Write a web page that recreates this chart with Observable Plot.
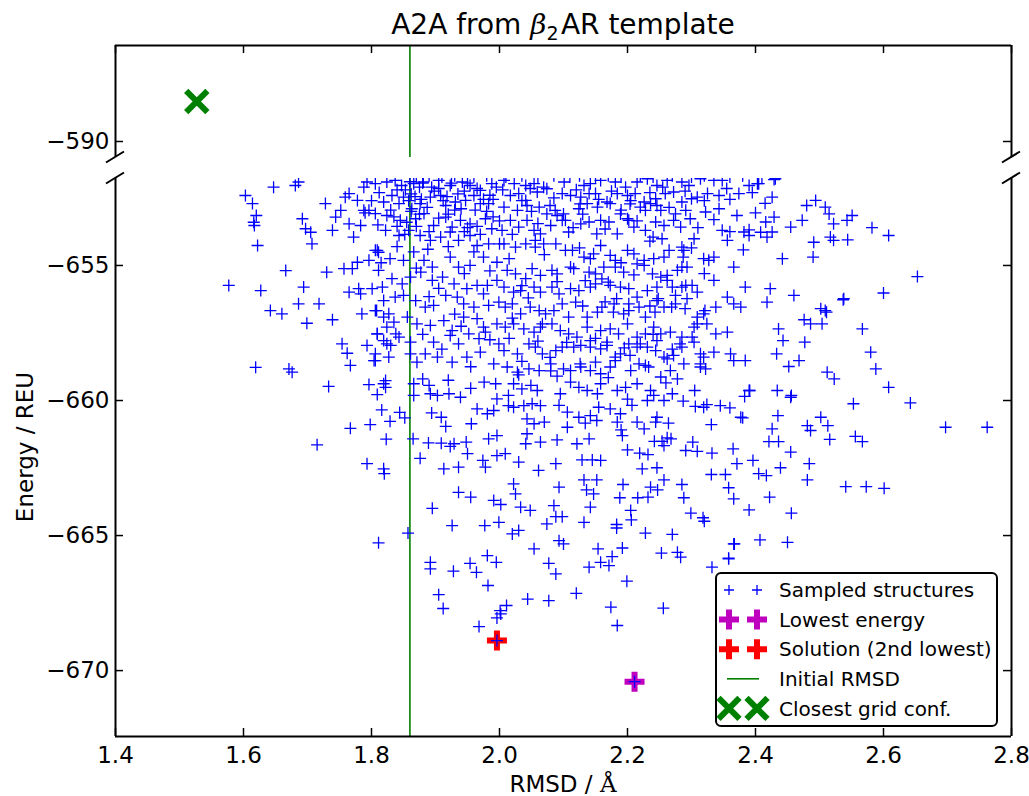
<!DOCTYPE html>
<html><head><meta charset="utf-8">
<script src="https://cdn.jsdelivr.net/npm/d3@7"></script>
<script src="https://cdn.jsdelivr.net/npm/@observablehq/plot@0.6"></script>
<style>
html,body{margin:0;padding:0;background:#fff;overflow:hidden}
#fig{position:relative;width:1029px;height:796px;font-family:"DejaVu Sans",sans-serif;color:#000;background:#fff}
#fig svg{position:absolute;left:0}
.lbl{position:absolute;white-space:nowrap;line-height:1}
</style></head><body><div id="fig"></div>
<script>
// ---------- data ----------
const titleText = ["A2A from ", "β", "2", "AR template"];
const xLabel = "RMSD / ";
const xLabelUnit = "Å";
const yLabel = "Energy / REU";
const xTicks = [1.4, 1.6, 1.8, 2.0, 2.2, 2.4, 2.6, 2.8];
const yTicksTop = [-590];
const yTicksBottom = [-655, -660, -665, -670];
const xDomain = [1.4, 2.8];
const topDomain = [-590.5, -587];
const bottomDomain = [-672.44, -651.78];
const initialRmsd = 1.86;
const lowestEnergy = [[2.211, -670.41]];
const solution = [[1.996, -668.89]];
const closestGrid = [[1.527, -588.75]];
const legendLabels = ["Sampled structures", "Lowest energy", "Solution (2nd lowest)", "Initial RMSD", "Closest grid conf."];

const sampledLeft = [[1.603,-652.41],[1.614,-652.71],[1.647,-652.10],[1.681,-652.04],[1.686,-651.91],[1.620,-653.15],[1.616,-653.40],[1.617,-653.52],[1.622,-654.26],[1.692,-653.27],[1.697,-653.64],[1.705,-653.77],[1.707,-654.20],[1.728,-652.71],[1.739,-653.70],[1.744,-653.21],[1.752,-652.96],[1.759,-652.47],[1.765,-652.34],[1.778,-652.59],[1.788,-652.10],[1.793,-651.91],[1.788,-652.96],[1.796,-652.96],[1.783,-653.52],[1.772,-653.95],[1.765,-653.46],
[1.577,-655.74],[1.627,-655.93],[1.666,-655.19],[1.694,-655.80],[1.642,-656.67],[1.660,-656.79],[1.686,-656.42],[1.718,-656.42],[1.699,-657.14],[1.739,-657.01],[1.730,-655.25],[1.757,-655.12],[1.770,-655.12],[1.778,-654.88],[1.765,-655.99],[1.780,-655.86],[1.783,-656.05],[1.801,-655.86],[1.817,-655.80],[1.785,-656.79],[1.808,-656.67],[1.827,-656.79],[1.806,-654.44],[1.811,-654.51],[1.796,-654.81],[1.619,-658.77],[1.671,-658.83],[1.676,-658.95],[1.733,-659.48],[1.754,-657.90],[1.762,-658.25],[1.767,-658.70],[1.793,-657.96],[1.804,-658.52],[1.806,-658.27],[1.822,-659.26],[1.809,-657.53],[1.819,-657.78],[1.830,-657.96],[1.838,-657.53],[1.824,-657.28]];

const sampledLower = [[1.796,-659.41],[1.819,-659.38],[1.822,-659.51],[1.809,-659.78],[1.816,-660.35],[1.829,-660.77],[1.798,-660.89],[1.767,-661.03],[1.715,-661.64],[1.823,-661.43],[1.793,-662.34],[1.819,-662.53],[1.820,-662.71],[1.844,-660.44],[1.852,-660.64],[1.811,-665.27],[1.857,-664.91],
[1.865,-661.42],[1.876,-662.14],[1.889,-661.57],[1.894,-660.46],[1.909,-661.58],[1.909,-660.62],[1.916,-660.96],[1.923,-661.70],[1.929,-661.60],[1.936,-662.47],[1.913,-662.53],[1.939,-659.88],[1.956,-660.86],[1.948,-661.54],[1.950,-661.97],[1.974,-662.22],[1.978,-662.47],[1.981,-660.49],[1.983,-661.42],[1.996,-661.30],[1.996,-662.04],[2.009,-661.97],[2.030,-662.28],[2.043,-661.23],[2.041,-661.60],[2.064,-661.54],[2.061,-662.59],
[1.895,-663.99],[1.936,-663.40],[1.955,-663.58],[1.926,-664.63],[1.977,-664.63],[1.999,-664.51],[1.991,-663.70],[2.002,-663.85],[2.022,-663.09],[2.025,-663.46],[2.033,-663.95],[2.048,-664.07],[2.020,-664.94],[2.030,-664.81],[2.074,-664.57],[1.892,-665.99],[1.892,-666.23],[1.928,-666.32],[1.954,-666.03],[1.964,-666.36],[1.981,-665.74],[1.995,-665.99],[1.982,-666.85],[2.054,-665.49],[1.905,-667.19],[1.912,-667.70],[1.968,-668.37],[1.996,-668.05],[2.002,-667.90],[2.001,-667.78],[2.011,-667.59],[2.044,-667.35],[1.996,-668.89],[2.211,-670.41],
[1.866,-659.38],[1.866,-659.81],[1.890,-659.44],[1.892,-659.75],[1.903,-659.81],[1.921,-659.75],[1.976,-659.32],[1.994,-659.38],[1.996,-659.94],[2.014,-659.81],[2.022,-659.38],[2.035,-659.57],[2.049,-659.44],[2.059,-659.63],[2.014,-660.19],[2.022,-660.25],[2.038,-660.19],[2.051,-660.12],[2.064,-660.19],[1.965,-660.31],[1.991,-660.37],[2.043,-660.68],[2.054,-660.86],[2.070,-660.80],
[2.100,-665.31],[2.154,-665.49],[2.192,-665.46],[2.176,-665.78],[2.158,-665.99],[2.171,-666.11],[2.140,-666.17],[2.077,-666.03],[2.088,-666.42],[2.253,-665.65],[2.278,-665.62],[2.283,-665.80],[2.332,-666.17],[2.358,-665.86],[2.366,-665.31],[2.199,-666.69],[2.120,-667.14],[2.077,-667.41],[2.174,-667.65],[2.184,-668.33],[2.256,-667.69]];

const sampledRight = [[2.608,-659.51],[2.642,-660.09],[2.553,-660.12],[2.697,-660.99],[2.762,-660.99],[2.502,-660.62],[2.513,-660.93],[2.481,-660.93],[2.486,-661.11],[2.516,-661.44],[2.556,-661.33],[2.567,-661.52],[2.435,-660.56],[2.426,-661.05],[2.421,-661.52],[2.436,-661.52],[2.455,-661.91],[2.484,-662.34],[2.481,-662.94],[2.541,-663.19],[2.573,-663.19],[2.601,-663.25],[2.439,-662.49],[2.396,-662.22],[2.371,-662.34],[2.405,-662.71],[2.417,-662.78],
[2.434,-659.63],[2.456,-659.81],[2.391,-659.63],[2.383,-659.85],[2.305,-659.63],[2.287,-660.02],[2.306,-660.22],[2.324,-660.15],[2.345,-660.19],[2.360,-660.27],[2.331,-660.89],[2.380,-660.64],[2.365,-661.79],[2.332,-661.95],[2.291,-661.85],[2.309,-661.88],[2.302,-661.54],
[2.331,-662.74],[2.353,-662.74],[2.358,-663.23],[2.366,-663.64],[2.390,-664.05],[2.422,-663.58],[2.456,-664.17],[2.407,-665.16],[2.450,-665.25],[2.367,-665.31],[2.358,-665.84],
[2.288,-663.60],[2.285,-663.11],[2.299,-664.17],[2.318,-664.34],[2.320,-664.47],[2.270,-664.96],[2.228,-664.91],
[2.193,-663.11],[2.188,-663.60],[2.205,-664.07],[2.206,-664.42],[2.183,-664.59],[2.183,-664.72],[2.132,-664.51],[2.093,-665.19],[2.088,-664.30],[2.098,-664.30],
[2.236,-663.21],[2.232,-663.58],[2.216,-663.60],[2.247,-663.31],[2.257,-662.94],[2.246,-662.49],[2.223,-662.53],[2.232,-662.00],[2.219,-661.95],[2.200,-661.83],
[2.244,-660.80],[2.215,-660.80],[2.226,-661.05],[2.264,-660.84],[2.262,-661.38],[2.254,-661.51],[2.257,-661.67],[2.268,-661.42],[2.242,-661.51],[2.190,-661.09],[2.192,-661.30],[2.184,-660.80],[2.152,-660.74],[2.134,-660.84],[2.106,-660.99],[2.090,-661.46],[2.121,-661.60],[2.140,-661.42],[2.129,-662.20],[2.145,-662.20],[2.158,-662.22],[2.152,-662.94],[2.132,-662.94],[2.136,-663.31],[2.147,-663.46],[2.088,-662.34],[2.093,-663.21],[2.085,-663.89],[2.142,-663.95],
[2.509,-652.84],[2.515,-653.09],[2.522,-653.46],[2.551,-653.15],[2.543,-653.33],[2.582,-653.60],[2.608,-653.89],[2.517,-653.95],[2.522,-654.07],[2.544,-654.05],[2.653,-655.41],[2.600,-656.02],[2.537,-656.27],[2.509,-656.67],[2.504,-657.16],[2.567,-657.35],[2.580,-658.21],[2.588,-658.83],[2.512,-658.95],[2.523,-659.20],
[2.538,-656.23],[2.502,-656.60],[2.511,-656.73],[2.476,-657.01],[2.486,-657.16],[2.460,-656.11],[2.436,-657.35],[2.443,-657.78],[2.477,-657.84],[2.468,-658.52],[2.452,-658.74],[2.433,-658.27],
[2.423,-655.86],[2.418,-656.36],[2.384,-655.80],[2.366,-655.06],[2.381,-654.42],[2.442,-654.75],[2.490,-654.69],[2.408,-653.77],[2.429,-653.21],[2.418,-653.95],[2.455,-653.58],[2.480,-652.78],[2.494,-652.59],[2.491,-654.14],[2.473,-653.33],[2.426,-652.47],[2.403,-651.97],[2.431,-651.79],[2.390,-653.68],[2.366,-656.42],[2.377,-656.54],[2.356,-657.47],[2.324,-657.16],[2.309,-657.16],[2.301,-657.65],[2.314,-658.27],[2.335,-658.21],[2.361,-658.27],[2.366,-658.52],[2.384,-658.52],[2.390,-659.63],[2.455,-659.88],[2.319,-660.25],[2.377,-660.62]];

const sampledCore = [
[2.023,-651.97],[2.041,-652.04],[2.054,-651.97],[2.069,-652.10],[2.101,-651.91],[2.132,-652.04],[2.142,-651.97],[2.158,-651.85],[2.181,-651.91],[2.197,-652.10],[2.215,-651.91],[2.231,-651.79],[2.246,-652.04],[2.262,-651.85],[2.285,-651.91],[2.296,-652.04],[2.314,-651.79],[2.335,-651.85],[2.348,-651.85],[2.390,-652.04],[2.405,-651.97],[2.429,-651.82],[2.007,-651.85],
[2.017,-652.41],[2.030,-652.34],[2.041,-652.59],[2.059,-652.28],[2.074,-652.16],[2.098,-652.34],[2.111,-652.41],[2.127,-652.47],[2.140,-652.34],[2.150,-652.34],[2.168,-652.65],[2.184,-652.34],[2.200,-652.41],[2.212,-652.34],[2.226,-652.65],[2.244,-652.53],[2.259,-652.34],[2.272,-652.28],[2.285,-652.65],[2.300,-652.53],[2.309,-652.47],[2.325,-652.34],[2.343,-652.41],[2.374,-652.34],
[2.007,-652.84],[2.028,-652.96],[2.043,-652.78],[2.062,-652.84],[2.074,-653.09],[2.087,-652.96],[2.103,-653.33],[2.124,-652.90],[2.137,-652.71],[2.153,-652.84],[2.173,-652.71],[2.189,-653.09],[2.200,-653.27],[2.220,-652.84],[2.236,-652.71],[2.252,-652.96],[2.275,-653.09],[2.291,-652.96],[2.322,-653.02],[2.343,-652.90],[2.371,-653.15],
[2.004,-653.70],[2.017,-653.33],[2.030,-653.58],[2.043,-653.33],[2.054,-653.70],[2.064,-653.83],[2.080,-653.52],[2.098,-653.33],[2.108,-653.76],[2.127,-653.46],[2.140,-653.39],[2.158,-653.33],[2.171,-653.39],[2.184,-653.83],[2.202,-653.33],[2.210,-653.58],[2.228,-653.70],[2.244,-653.39],[2.257,-653.52],[2.272,-653.33],[2.283,-653.58],[2.298,-653.27],[2.304,-654.01],[2.348,-653.70],[2.356,-654.07],[2.382,-653.76],[2.390,-653.89],[2.416,-653.39],[2.426,-653.76],
[2.007,-654.20],[2.025,-654.32],[2.041,-654.20],[2.056,-654.07],[2.069,-654.20],[2.088,-654.20],[2.103,-654.44],[2.114,-654.44],[2.132,-654.69],[2.147,-654.57],[2.158,-654.26],[2.173,-654.63],[2.181,-654.81],[2.200,-654.44],[2.210,-654.57],[2.226,-654.81],[2.241,-654.75],[2.257,-654.69],[2.265,-654.44],[2.285,-654.32],[2.287,-654.69],[2.319,-654.75],[2.327,-654.81],[2.335,-654.69],
[2.012,-655.18],[2.025,-655.31],[2.041,-655.49],[2.051,-655.12],[2.064,-655.37],[2.082,-655.18],[2.090,-655.31],[2.111,-655.06],[2.116,-655.12],[2.140,-655.25],[2.150,-655.31],[2.163,-655.06],[2.181,-655.06],[2.194,-655.25],[2.215,-654.94],[2.226,-655.00],[2.239,-655.31],[2.252,-655.43],[2.262,-655.37],[2.278,-655.18],[2.285,-655.06],[2.293,-655.06],[2.335,-655.55],
[2.007,-655.80],[2.022,-655.99],[2.033,-655.93],[2.054,-655.80],[2.064,-655.99],[2.082,-655.80],[2.093,-656.05],[2.111,-655.86],[2.124,-655.93],[2.142,-655.80],[2.150,-655.68],[2.173,-655.74],[2.189,-655.80],[2.202,-655.86],[2.215,-656.17],[2.231,-655.93],[2.246,-655.80],[2.262,-655.55],[2.275,-656.11],[2.285,-655.80],[2.291,-655.74],[2.309,-655.99],[2.356,-656.17],
[2.009,-656.54],[2.020,-656.42],[2.033,-656.79],[2.048,-656.54],[2.062,-656.67],[2.072,-656.79],[2.085,-656.67],[2.098,-656.42],[2.119,-656.36],[2.137,-656.91],[2.153,-656.73],[2.160,-656.54],[2.179,-656.42],[2.194,-656.79],[2.202,-656.67],[2.218,-656.54],[2.228,-656.91],[2.246,-656.30],[2.257,-656.54],[2.275,-656.42],[2.293,-656.23],[2.309,-656.91],[2.319,-656.79],[2.338,-656.54],
[2.009,-657.28],[2.022,-657.16],[2.038,-657.35],[2.054,-657.47],[2.067,-657.16],[2.082,-657.16],[2.095,-657.41],[2.108,-657.53],[2.137,-657.28],[2.142,-657.78],[2.158,-657.41],[2.173,-657.35],[2.186,-657.53],[2.200,-657.16],[2.215,-657.65],[2.228,-657.53],[2.241,-657.28],[2.252,-657.53],[2.267,-657.47],[2.285,-657.65],[2.304,-657.28],[2.338,-657.53],
[2.007,-658.15],[2.028,-658.27],[2.046,-657.90],[2.056,-658.02],[2.067,-658.27],[2.088,-658.15],[2.098,-658.02],[2.116,-658.02],[2.127,-657.96],[2.142,-658.02],[2.158,-658.09],[2.168,-657.96],[2.181,-658.39],[2.189,-658.27],[2.202,-657.90],[2.215,-658.02],[2.231,-658.02],[2.244,-658.15],[2.257,-658.39],[2.272,-658.33],[2.285,-658.02],[2.304,-657.84],[2.319,-658.39],
[2.012,-658.76],[2.028,-658.95],[2.046,-658.83],[2.062,-658.89],[2.080,-658.64],[2.100,-658.83],[2.111,-658.89],[2.127,-658.76],[2.142,-658.89],[2.158,-659.01],[2.173,-658.76],[2.181,-658.52],[2.205,-658.89],[2.218,-658.64],[2.233,-658.76],[2.252,-659.13],[2.267,-658.89],[2.278,-659.20],[2.314,-658.76],[2.322,-658.83],
[2.095,-659.75],[2.111,-659.32],[2.124,-659.51],[2.137,-659.63],[2.153,-659.75],[2.158,-659.38],[2.184,-659.63],[2.197,-659.51],[2.215,-659.38],[2.236,-659.63],[2.241,-659.81],[2.257,-660.00],[2.270,-659.75],
[2.093,-660.18],[2.106,-660.43],[2.124,-660.62],[2.142,-660.56],[2.155,-660.25],[2.173,-660.31],[2.189,-660.49],[2.207,-660.18],[2.231,-660.00],[2.246,-660.62],
[2.079,-652.78],[2.100,-653.09],[2.126,-652.72],[2.204,-652.72],[2.228,-652.96],[2.246,-652.78],[2.152,-653.83],[2.254,-654.01],[2.288,-654.44],[2.056,-654.32],[2.142,-654.75],[2.134,-655.56],[2.170,-655.62],[2.301,-655.74],[2.183,-656.23],[2.248,-656.23],[2.321,-656.67],[2.108,-656.91],[2.178,-656.73],[2.202,-656.42],[2.243,-656.73],[2.269,-656.54],[2.064,-657.28],[2.121,-657.65],[2.168,-657.84],[2.220,-657.90],[2.246,-657.78],[2.282,-657.90],[2.079,-658.40],[2.126,-658.64],[2.150,-658.58],[2.204,-658.33],[2.228,-658.70],[2.262,-658.46],[2.288,-658.64],[2.314,-658.64]];

const sampledMid = [[1.806,-651.97],[1.824,-651.91],[1.837,-651.85],[1.847,-652.04],[1.866,-651.97],[1.881,-651.91],[1.894,-652.10],[1.905,-651.85],[1.923,-652.04],[1.942,-651.91],[1.954,-652.04],[1.970,-652.22],[1.988,-651.97],
[1.819,-652.65],[1.832,-652.41],[1.843,-652.71],[1.850,-652.47],[1.863,-652.90],[1.876,-652.71],[1.892,-652.47],[1.908,-652.41],[1.916,-652.78],[1.931,-652.65],[1.947,-652.59],[1.960,-652.41],[1.970,-652.71],[1.983,-652.71],
[1.806,-653.08],[1.824,-653.15],[1.845,-653.33],[1.858,-653.70],[1.869,-653.27],[1.882,-653.08],[1.897,-653.52],[1.916,-653.21],[1.926,-653.58],[1.939,-653.33],[1.954,-653.46],[1.978,-653.27],[1.988,-653.64],
[1.822,-653.70],[1.843,-653.89],[1.876,-653.89],[1.892,-654.07],[1.908,-653.95],[1.923,-653.76],[1.936,-654.07],[1.954,-653.89],[1.965,-654.26],[1.983,-654.20],
[1.809,-654.44],[1.829,-654.75],[1.850,-654.81],[1.866,-654.50],[1.882,-654.81],[1.895,-655.06],[1.923,-654.69],[1.936,-655.06],[1.954,-655.00],[1.975,-654.69],[1.996,-654.88],
[1.811,-655.18],[1.832,-655.49],[1.848,-655.68],[1.861,-655.43],[1.877,-655.25],[1.895,-655.55],[1.911,-655.43],[1.929,-655.68],[1.949,-655.86],[1.965,-655.74],[1.981,-655.74],[1.996,-655.55],
[1.806,-656.67],[1.819,-656.30],[1.837,-656.17],[1.850,-656.11],[1.869,-656.30],[1.884,-656.54],[1.897,-656.48],[1.916,-656.11],[1.934,-656.17],[1.944,-656.42],[1.960,-656.54],[1.983,-656.48],[1.999,-656.36],
[1.819,-656.91],[1.835,-657.10],[1.856,-656.91],[1.871,-657.16],[1.892,-657.22],[1.913,-657.04],[1.926,-657.41],[1.944,-656.91],[1.965,-656.97],[1.975,-657.28],[1.996,-657.16],
[1.809,-657.53],[1.824,-657.90],[1.843,-657.65],[1.861,-657.84],[1.897,-657.84],[1.923,-657.59],[1.936,-657.90],[1.952,-657.53],[1.968,-657.71],[1.978,-657.47],[1.999,-657.90],
[1.806,-658.52],[1.827,-658.39],[1.861,-658.27],[1.871,-658.58],[1.884,-658.27],[1.903,-658.39],[1.926,-658.58],[1.949,-658.39],[1.970,-658.21],[1.991,-658.64],
[1.853,-652.20],[1.858,-652.60],[1.862,-653.00],[1.855,-653.40],[1.870,-653.55],[1.868,-652.45],[1.875,-652.10],[1.887,-652.85],[1.898,-652.25],[1.912,-652.60],[1.920,-653.10],[1.935,-652.35],[1.940,-652.90],[1.950,-653.60],[1.962,-652.95],[1.975,-652.55],[1.990,-653.20],[1.812,-652.30],[1.830,-652.95],[1.840,-653.55],[1.840,-652.20],[1.790,-653.05],[1.800,-652.60],[1.950,-651.95],[1.925,-651.95],[1.880,-651.95],[1.860,-651.90],[1.995,-652.10],[1.985,-652.40],[1.970,-653.85]];

// denser parts of the cloud (upper band and core)
const sampledDense = [[1.870,-651.72],[1.890,-651.68],[1.910,-651.72],[1.930,-651.68],[1.960,-651.72],[1.980,-651.68],[2.010,-651.72],[2.035,-651.68],[2.060,-651.72],[2.085,-651.68],[2.110,-651.72],[2.125,-651.68],[2.150,-651.72],[2.170,-651.68],[2.190,-651.72],[2.220,-651.68],[2.240,-651.72],[2.270,-651.68],[2.300,-651.72],[2.320,-651.68],[2.360,-651.72],[2.380,-651.68],[2.410,-651.72],
[1.862,-652.35],[1.878,-652.55],[1.905,-652.15],[1.918,-652.45],[1.945,-652.25],[1.965,-652.15],[1.990,-652.55],[2.005,-652.20],[2.035,-652.60],[2.048,-652.15],[2.085,-652.50],[2.120,-652.20],[2.155,-652.55],[2.175,-652.25],[2.205,-652.60],[2.235,-652.30],[2.255,-652.10],[2.290,-652.25],[2.320,-652.60],[2.355,-652.15],[2.360,-652.55],[2.395,-652.30],[2.415,-652.70],
[1.810,-653.50],[1.835,-653.20],[1.852,-653.85],[1.875,-653.10],[1.890,-653.75],[1.905,-653.25],[1.930,-652.95],[1.945,-653.75],[1.965,-653.55],[1.980,-653.00],[2.000,-653.35],[2.020,-653.85],[2.050,-653.00],[2.060,-653.45],[2.090,-653.15],[2.115,-653.60],[2.130,-653.10],[2.165,-653.65],[2.190,-652.95],[2.215,-653.35],[2.240,-653.95],[2.265,-652.85],[2.310,-653.60],[2.335,-653.30],[2.360,-653.75],[2.400,-653.05],
[1.815,-654.90],[1.840,-654.30],[1.870,-655.10],[1.888,-654.40],[1.905,-655.85],[1.920,-654.30],[1.945,-655.30],[1.960,-654.50],[1.985,-655.20],[2.000,-654.20],[2.015,-654.75],[2.035,-655.75],[2.070,-654.60],[2.090,-655.60],[2.125,-654.35],[2.160,-655.50],[2.190,-654.90],[2.210,-655.35],[2.235,-654.10],[2.270,-655.80],[2.300,-654.35],[2.320,-655.30],[1.890,-656.15],[1.930,-656.80],[1.975,-656.05],[2.020,-656.95],[2.045,-656.20],[2.130,-656.50],[2.165,-656.35],[2.235,-656.50],[2.290,-656.60],
[1.880,-657.55],[1.910,-658.10],[1.940,-657.25],[1.955,-658.75],[1.985,-657.75],[2.015,-657.70],[2.035,-658.55],[2.060,-657.80],[2.080,-658.90],[2.105,-657.85],[2.150,-657.70],[2.195,-658.05],[2.240,-657.55],[2.270,-658.10],[1.880,-659.20],[1.920,-659.25],[1.955,-659.55],[2.030,-659.05],[2.090,-659.10],[2.170,-659.15],[2.200,-659.95],[2.260,-659.35]];

const sampled = [...sampledLeft, ...sampledMid, ...sampledCore, ...sampledDense, ...sampledRight, ...sampledLower];

// ---------- styling ----------
const BLUE = "#0000ff", MAGENTA = "#bf00bf", RED = "#ff0000", GREEN = "#008000";
const W = 1029, ML = 115, MR = 18;
const innerW = W - ML - MR;
const fmtY = d3.format(".0f");
const fmtX = d3.format(".1f");
const plusSym = {draw(ctx, size) {const r = Math.sqrt(size / Math.PI); ctx.moveTo(-r, 0); ctx.lineTo(r, 0); ctx.moveTo(0, -r); ctx.lineTo(0, r);}};
const xSym = {draw(ctx, size) {const r = Math.sqrt(size / Math.PI) * Math.SQRT1_2; ctx.moveTo(-r, -r); ctx.lineTo(r, r); ctx.moveTo(-r, r); ctx.lineTo(r, -r);}};
const style = {fontFamily: '"DejaVu Sans", sans-serif', fontSize: "23px", color: "#000", background: "transparent", overflow: "visible"};
const fig = document.getElementById("fig");

// ---------- top panel ----------
const topH = 160, topMT = 45, topMB = 3;
const topInner = topH - topMT - topMB;
const topPlot = Plot.plot({
  width: W, height: topH, marginLeft: ML, marginRight: MR, marginTop: topMT, marginBottom: topMB,
  style,
  x: {domain: xDomain, axis: null},
  y: {domain: topDomain},
  marks: [
    Plot.ruleX([initialRmsd], {stroke: GREEN, strokeWidth: 1.6}),
    Plot.dot(closestGrid, {x: d => d[0], y: d => d[1], symbol: xSym, r: 15, fill: "none", stroke: GREEN, strokeWidth: 6}),
    Plot.tickX(xTicks, {x: d => d, insetBottom: topInner - 8, stroke: "#000", strokeWidth: 1.5}),
    Plot.tickY(yTicksTop, {y: d => d, insetRight: innerW - 8, stroke: "#000", strokeWidth: 1.5}),
    Plot.tickY(yTicksTop, {y: d => d, insetLeft: innerW - 8, stroke: "#000", strokeWidth: 1.5}),
    Plot.ruleX([xDomain[0], xDomain[1]], {stroke: "#000", strokeWidth: 2}),
    Plot.ruleY([topDomain[1]], {stroke: "#000", strokeWidth: 2}),
    Plot.axisY(yTicksTop, {tickSize: 0, tickPadding: 6, tickFormat: fmtY, label: null})
  ]
});
topPlot.style.top = "0px";
fig.appendChild(topPlot);

// ---------- bottom panel ----------
const botTop = 160, botH = 636, botMT = 18, botMB = 60;
const botInner = botH - botMT - botMB;
const botPlot = Plot.plot({
  width: W, height: botH, marginLeft: ML, marginRight: MR, marginTop: botMT, marginBottom: botMB,
  style,
  x: {domain: xDomain},
  y: {domain: bottomDomain},
  marks: [
    Plot.ruleX([initialRmsd], {stroke: GREEN, strokeWidth: 1.6}),
    Plot.dot(lowestEnergy, {x: d => d[0], y: d => d[1], symbol: plusSym, r: 10, fill: "none", stroke: MAGENTA, strokeWidth: 6}),
    Plot.dot(solution, {x: d => d[0], y: d => d[1], symbol: plusSym, r: 10, fill: "none", stroke: RED, strokeWidth: 6}),
    Plot.dot(sampled, {x: d => d[0], y: d => d[1], symbol: plusSym, r: 6, fill: "none", stroke: BLUE, strokeWidth: 1.3, clip: true}),
    Plot.tickX(xTicks, {x: d => d, insetTop: botInner - 8, stroke: "#000", strokeWidth: 1.5}),
    Plot.tickY(yTicksBottom, {y: d => d, insetRight: innerW - 8, stroke: "#000", strokeWidth: 1.5}),
    Plot.tickY(yTicksBottom, {y: d => d, insetLeft: innerW - 8, stroke: "#000", strokeWidth: 1.5}),
    Plot.ruleX([xDomain[0], xDomain[1]], {stroke: "#000", strokeWidth: 2}),
    Plot.ruleY([bottomDomain[0]], {stroke: "#000", strokeWidth: 2}),
    Plot.axisX(xTicks, {tickSize: 0, tickPadding: 10, tickFormat: fmtX, label: null}),
    Plot.axisY(yTicksBottom, {tickSize: 0, tickPadding: 6, tickFormat: fmtY, label: null})
  ]
});
botPlot.style.top = botTop + "px";
fig.appendChild(botPlot);

// ---------- broken-axis diagonal marks ----------
function addBreaks(svg, plot, yVal) {
  const xs = plot.scale("x"), ys = plot.scale("y");
  const y0 = ys.apply(yVal);
  for (const xv of xs.domain) {
    const x0 = xs.apply(xv);
    d3.select(svg).append("line")
      .attr("x1", x0 - 9).attr("y1", y0 + 5.5).attr("x2", x0 + 9).attr("y2", y0 - 5.5)
      .attr("stroke", "#000").attr("stroke-width", 2);
  }
}
addBreaks(topPlot, topPlot, topDomain[0]);
addBreaks(botPlot, botPlot, bottomDomain[1]);

// ---------- text ----------
const title = document.createElement("div");
title.className = "lbl";
title.style.cssText = `left:${ML}px;width:${innerW}px;top:11px;text-align:center;font-size:28px;`;
title.innerHTML = `${titleText[0]}<span style="font-family:'DejaVu Serif',serif;font-style:italic">${titleText[1]}</span><span style="font-size:0.68em;position:relative;top:0.3em;margin-right:0.12em">${titleText[2]}</span>${titleText[3]}`;
fig.appendChild(title);

const xl = document.createElement("div");
xl.className = "lbl";
xl.style.cssText = `left:${ML}px;width:${innerW}px;top:773px;text-align:center;font-size:23px;`;
xl.innerHTML = `${xLabel}<span style="font-family:'DejaVu Serif',serif">${xLabelUnit}</span>`;
fig.appendChild(xl);

const yl = document.createElement("div");
yl.className = "lbl";
yl.style.cssText = `left:25px;top:447px;font-size:23px;transform:translate(-50%,-50%) rotate(-90deg);`;
yl.textContent = yLabel;
fig.appendChild(yl);

// ---------- legend ----------
const lg = d3.select(fig).append("svg")
  .attr("width", 283).attr("height", 156)
  .style("left", "715px").style("top", "572px").style("overflow", "visible");
lg.append("rect").attr("x", 1).attr("y", 1).attr("width", 281).attr("height", 153).attr("rx", 5)
  .attr("fill", "#fff").attr("stroke", "#000").attr("stroke-width", 2);
const rowY = i => 18 + i * 29.6;
const mx = [14, 42];
const plusPath = r => `M${-r},0H${r}M0,${-r}V${r}`;
const xPath = r => `M${-r},${-r}L${r},${r}M${-r},${r}L${r},${-r}`;
legendLabels.forEach((t, i) => {
  const g = lg.append("g");
  const y = rowY(i);
  mx.forEach(x => {
    if (i === 0) g.append("path").attr("d", plusPath(5)).attr("transform", `translate(${x},${y})`).attr("stroke", BLUE).attr("stroke-width", 1.3).attr("fill", "none");
    if (i === 1) g.append("path").attr("d", plusPath(10)).attr("transform", `translate(${x},${y})`).attr("stroke", MAGENTA).attr("stroke-width", 6).attr("fill", "none");
    if (i === 2) g.append("path").attr("d", plusPath(10)).attr("transform", `translate(${x},${y})`).attr("stroke", RED).attr("stroke-width", 6).attr("fill", "none");
    if (i === 4) g.append("path").attr("d", xPath(10.5)).attr("transform", `translate(${x},${y})`).attr("stroke", GREEN).attr("stroke-width", 6).attr("fill", "none");
  });
  if (i === 3) g.append("line").attr("x1", 12).attr("x2", 44).attr("y1", y).attr("y2", y).attr("stroke", GREEN).attr("stroke-width", 1.6);
  g.append("text").attr("x", 64).attr("y", y).attr("dy", "0.36em")
    .attr("font-family", '"DejaVu Sans", sans-serif').attr("font-size", 20).attr("fill", "#000").text(t);
});
</script>
</body></html>
